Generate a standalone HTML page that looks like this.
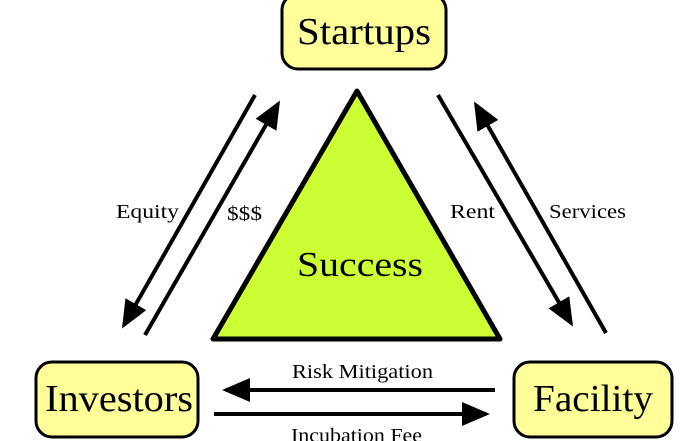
<!DOCTYPE html>
<html><head><style>body{margin:0;background:#fff}svg{display:block}</style></head><body>
<svg width="700" height="441" viewBox="0 0 700 441" xmlns="http://www.w3.org/2000/svg" font-family="Liberation Serif, DejaVu Serif, serif">
<defs>
<marker id="a" markerWidth="7" markerHeight="6" refX="6" refY="3" orient="auto" markerUnits="strokeWidth">
<path d="M0,0 L7,3 L0,6 Z" fill="#000"/></marker>
</defs>
<rect x="282" y="-6" width="164" height="75" rx="16" fill="#ffff99" stroke="#000" stroke-width="3"/>
<text x="297" y="44" font-size="38" textLength="134" lengthAdjust="spacingAndGlyphs">Startups</text>
<rect x="36" y="362" width="162" height="75" rx="16" fill="#ffff99" stroke="#000" stroke-width="3"/>
<text x="45" y="411" font-size="38" textLength="148" lengthAdjust="spacingAndGlyphs">Investors</text>
<rect x="514" y="362" width="158" height="75" rx="16" fill="#ffff99" stroke="#000" stroke-width="3"/>
<text x="533" y="411" font-size="38" textLength="120" lengthAdjust="spacingAndGlyphs">Facility</text>
<polygon points="357,91 213,339 500,339" fill="#ccff33" stroke="#000" stroke-width="5" stroke-linejoin="round"/>
<text x="297" y="276" font-size="35" textLength="126" lengthAdjust="spacingAndGlyphs">Success</text>
<g stroke="#000" stroke-width="4" fill="none">
<line x1="255" y1="95" x2="124" y2="325" marker-end="url(#a)"/>
<line x1="145" y1="335" x2="278" y2="104" marker-end="url(#a)"/>
<line x1="438" y1="95" x2="571" y2="323" marker-end="url(#a)"/>
<line x1="606" y1="333" x2="476" y2="105" marker-end="url(#a)"/>
<line x1="495" y1="390" x2="226" y2="390" marker-end="url(#a)"/>
<line x1="214" y1="414" x2="486" y2="414" marker-end="url(#a)"/>
</g>
<g font-size="20">
<text x="116" y="218" textLength="63" lengthAdjust="spacingAndGlyphs">Equity</text>
<text x="227" y="220" textLength="35" lengthAdjust="spacingAndGlyphs">$$$</text>
<text x="450" y="218" textLength="45" lengthAdjust="spacingAndGlyphs">Rent</text>
<text x="549" y="218" textLength="77" lengthAdjust="spacingAndGlyphs">Services</text>
<text x="292" y="378" textLength="141" lengthAdjust="spacingAndGlyphs">Risk Mitigation</text>
<text x="291" y="442" textLength="131" lengthAdjust="spacingAndGlyphs">Incubation Fee</text>
</g>
</svg>
</body></html>
